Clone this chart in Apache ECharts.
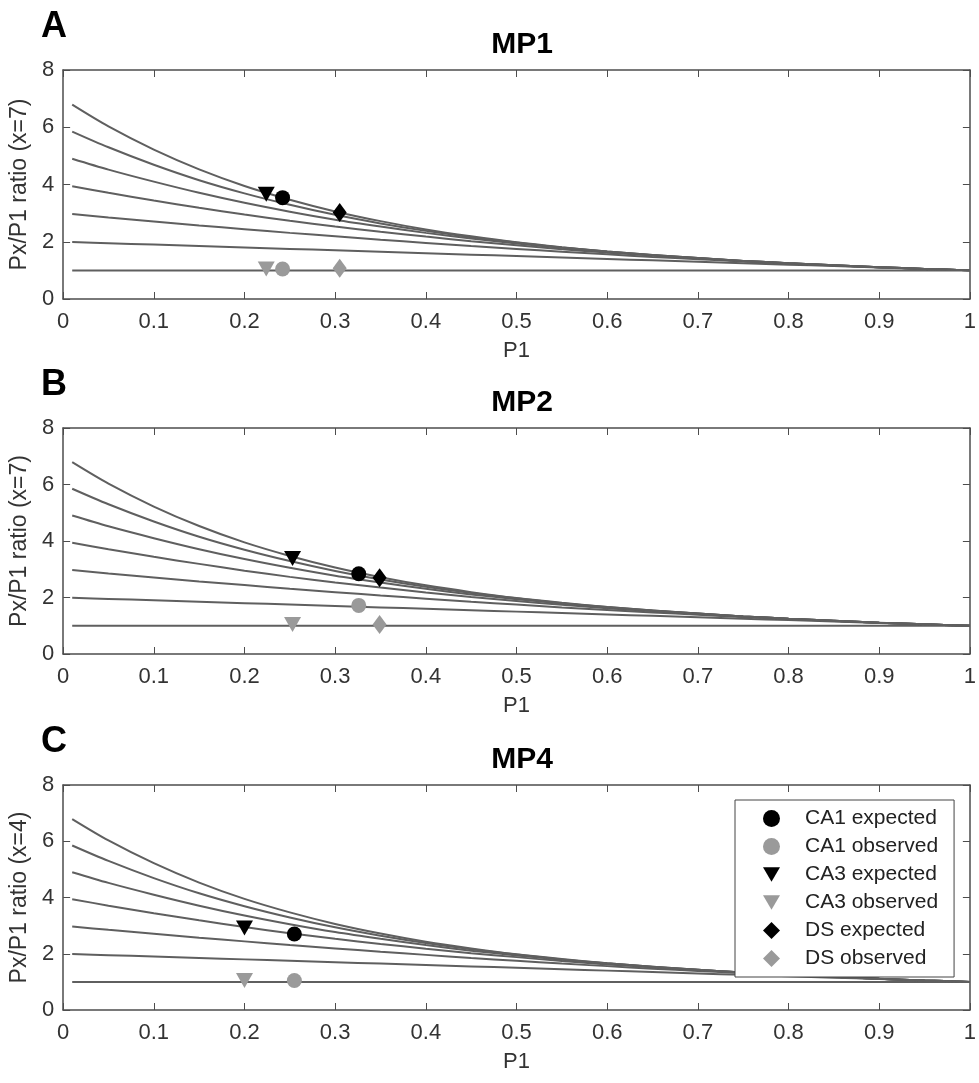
<!DOCTYPE html>
<html>
<head>
<meta charset="utf-8">
<script src="https://cdn.jsdelivr.net/npm/echarts@6/dist/echarts.min.js"></script>
<style>
html,body{margin:0;padding:0;background:#fff;}
#chart{width:979px;height:1083px;}
</style>
</head>
<body>
<div id="chart"></div>
<script>
// ---- data ----
const p1Values = [0.01,0.05,0.1,0.15,0.2,0.25,0.3,0.35,0.4,0.45,0.5,0.55,0.6,0.65,0.7,0.75,0.8,0.85,0.9,0.95,1.0];
const curveX1 = [1,1,1,1,1,1,1,1,1,1,1,1,1,1,1,1,1,1,1,1,1];
const curveX2 = [1.99,1.95,1.9,1.85,1.8,1.75,1.7,1.65,1.6,1.55,1.5,1.45,1.4,1.35,1.3,1.25,1.2,1.15,1.1,1.05,1.0];
const curveX3 = [2.97,2.85,2.71,2.57,2.44,2.31,2.19,2.07,1.96,1.85,1.75,1.65,1.56,1.47,1.39,1.31,1.24,1.17,1.11,1.05,1.0];
const curveX4 = [3.94,3.71,3.44,3.19,2.95,2.73,2.53,2.35,2.18,2.02,1.88,1.74,1.62,1.52,1.42,1.33,1.25,1.18,1.11,1.05,1.0];
const curveX5 = [4.90,4.52,4.10,3.71,3.36,3.05,2.77,2.53,2.31,2.11,1.94,1.79,1.65,1.53,1.43,1.33,1.25,1.18,1.11,1.05,1.0];
const curveX6 = [5.85,5.30,4.69,4.15,3.69,3.29,2.94,2.64,2.38,2.16,1.97,1.80,1.66,1.54,1.43,1.33,1.25,1.18,1.11,1.05,1.0];
const curveX7 = [6.79,6.03,5.22,4.53,3.95,3.47,3.06,2.72,2.43,2.19,1.98,1.81,1.66,1.54,1.43,1.33,1.25,1.18,1.11,1.05,1.0];

const panelLetters = ['A','B','C'];
const panelTitles = ['MP1','MP2','MP4'];
const yAxisNames = ['Px/P1 ratio (x=7)','Px/P1 ratio (x=7)','Px/P1 ratio (x=4)'];
const xTickLabels = ['0','0.1','0.2','0.3','0.4','0.5','0.6','0.7','0.8','0.9','1'];
const yTickLabels = ['0','2','4','6','8'];

const markerNames = ['CA1 expected','CA1 observed','CA3 expected','CA3 observed','DS expected','DS observed'];
// [P1, ratio] per panel, null = absent
const ca1Expected = [[0.242,3.54],[0.326,2.84],[0.255,2.70]];
const ca1Observed = [[0.242,1.05],[0.326,1.72],[0.255,1.05]];
const ca3Expected = [[0.224,3.66],[0.253,3.38],[0.200,2.92]];
const ca3Observed = [[0.224,1.05],[0.253,1.04],[0.200,1.05]];
const dsExpected  = [[0.305,3.02],[0.349,2.70],null];
const dsObserved  = [[0.305,1.07],[0.349,1.04],null];

// ---- styling / layout ----
const FONT = 'Liberation Sans, Arial, Helvetica, sans-serif';
const gridTops = [70, 428, 785];
const gridHeights = [229, 226, 225];
const axisColor = '#4d4d4d';
const labelColor = '#333';
const curveColor = '#5f5f5f';
const black = '#000';
const grey = '#9a9a9a';
const triDown = 'path://M0,0L10,0L5,8.66Z';

const markerStyle = {
  'CA1 expected': {symbol:'circle', size:15, color:black},
  'CA1 observed': {symbol:'circle', size:15, color:grey},
  'CA3 expected': {symbol:triDown, size:[17,15], color:black},
  'CA3 observed': {symbol:triDown, size:[17,15], color:grey},
  'DS expected':  {symbol:'diamond', size:[14,19], color:black},
  'DS observed':  {symbol:'diamond', size:[14,19], color:grey}
};
const markerData = {
  'CA1 expected': ca1Expected, 'CA1 observed': ca1Observed,
  'CA3 expected': ca3Expected, 'CA3 observed': ca3Observed,
  'DS expected': dsExpected, 'DS observed': dsObserved
};
const curves = [curveX1,curveX2,curveX3,curveX4,curveX5,curveX6,curveX7];

const grids = [], xAxes = [], yAxes = [], series = [], titles = [];

for (let i = 0; i < 3; i++) {
  grids.push({left:63, right:7, top:gridTops[i], height:gridHeights[i], containLabel:false});
  const tickCommon = {show:true, inside:true, length:7, lineStyle:{color:axisColor, width:1}};
  xAxes.push({
    type:'value', gridIndex:i, min:0, max:1, interval:0.1, position:'bottom',
    name:'P1', nameLocation:'middle', nameGap:41,
    nameTextStyle:{fontFamily:FONT, fontSize:22, color:labelColor},
    axisLine:{show:true, onZero:false, lineStyle:{color:axisColor, width:1.5}},
    axisTick:tickCommon, splitLine:{show:false},
    axisLabel:{fontFamily:FONT, fontSize:22, color:labelColor, margin:12,
      formatter:(v)=>xTickLabels[Math.round(v*10)]}
  });
  xAxes.push({
    type:'value', gridIndex:i, min:0, max:1, interval:0.1, position:'top',
    axisLine:{show:true, onZero:false, lineStyle:{color:axisColor, width:1.5}},
    axisTick:tickCommon, splitLine:{show:false}, axisLabel:{show:false}
  });
  yAxes.push({
    type:'value', gridIndex:i, min:0, max:8, interval:2, position:'left',
    name:yAxisNames[i], nameLocation:'middle', nameGap:27,
    nameTextStyle:{fontFamily:FONT, fontSize:23, color:labelColor},
    axisLine:{show:true, onZero:false, lineStyle:{color:axisColor, width:1.5}},
    axisTick:tickCommon, splitLine:{show:false},
    axisLabel:{fontFamily:FONT, fontSize:22, color:labelColor, margin:9,
      formatter:(v)=>yTickLabels[Math.round(v/2)]}
  });
  yAxes.push({
    type:'value', gridIndex:i, min:0, max:8, interval:2, position:'right',
    axisLine:{show:true, onZero:false, lineStyle:{color:axisColor, width:1.5}},
    axisTick:tickCommon, splitLine:{show:false}, axisLabel:{show:false}
  });

  curves.forEach((c, k) => {
    series.push({
      type:'line', xAxisIndex:2*i, yAxisIndex:2*i, showSymbol:false, symbol:'none',
      smooth:0.3, silent:true, z:2,
      lineStyle:{color:curveColor, width:2},
      data:p1Values.map((p, j) => [p, c[j]])
    });
  });

  markerNames.forEach(name => {
    const pt = markerData[name][i];
    const st = markerStyle[name];
    series.push({
      type:'scatter', name:name, xAxisIndex:2*i, yAxisIndex:2*i, z:5,
      symbol:st.symbol, symbolSize:st.size,
      itemStyle:{color:st.color, opacity:1},
      data: pt ? [pt] : []
    });
  });

  titles.push({text:panelLetters[i], left:36, top:gridTops[i]-66,
    textStyle:{fontFamily:FONT, fontSize:36, fontWeight:'bold', color:'#000'}});
  titles.push({text:panelTitles[i], left:517, textAlign:'center', top:gridTops[i]-45,
    textStyle:{fontFamily:FONT, fontSize:30, fontWeight:'bold', color:'#000'}});
}

const option = {
  backgroundColor:'#fff',
  animation:false,
  title:titles,
  grid:grids,
  xAxis:xAxes,
  yAxis:yAxes,
  legend:{
    data:markerNames.map(n => ({name:n, icon:markerStyle[n].symbol})),
    orient:'vertical', left:735, top:800,
    backgroundColor:'#fff', borderColor:'#444', borderWidth:1,
    padding:[8, 16, 8, 28], itemGap:7, itemWidth:17, itemHeight:17,
    textStyle:{fontFamily:FONT, fontSize:21, color:'#222', padding:[0,0,0,20]},
    selectedMode:false
  },
  series:series
};

const chart = echarts.init(document.getElementById('chart'), null, {renderer:'canvas'});
chart.setOption(option);
</script>
</body>
</html>
